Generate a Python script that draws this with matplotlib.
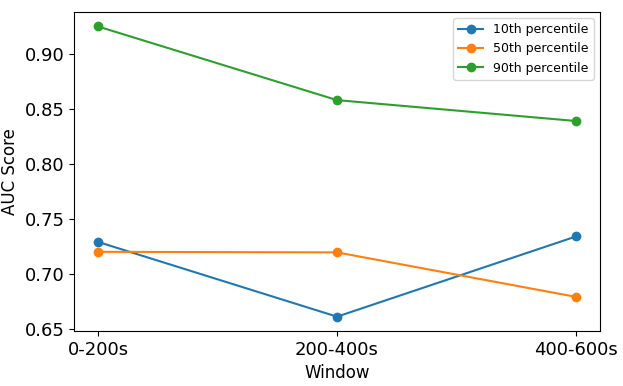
import matplotlib
matplotlib.use("Agg")
import matplotlib.pyplot as plt

# === DATA ===
windows = ["0-200s", "200-400s", "400-600s"]
p10 = [0.729, 0.661, 0.734]
p50 = [0.720, 0.7195, 0.679]
p90 = [0.925, 0.858, 0.839]

# === PLOT ===
fig, ax = plt.subplots(figsize=(6.23, 3.86), dpi=100)
ax.plot(windows, p10, marker="o", label="10th percentile")
ax.plot(windows, p50, marker="o", label="50th percentile")
ax.plot(windows, p90, marker="o", label="90th percentile")

ax.set_xlabel("Window", fontsize=12)
ax.set_ylabel("AUC Score", fontsize=12)
ax.tick_params(labelsize=13)
ax.legend(loc="upper right", fontsize=9)

fig.subplots_adjust(left=0.119, right=0.963, top=0.969, bottom=0.142)
fig.savefig("out.png")
